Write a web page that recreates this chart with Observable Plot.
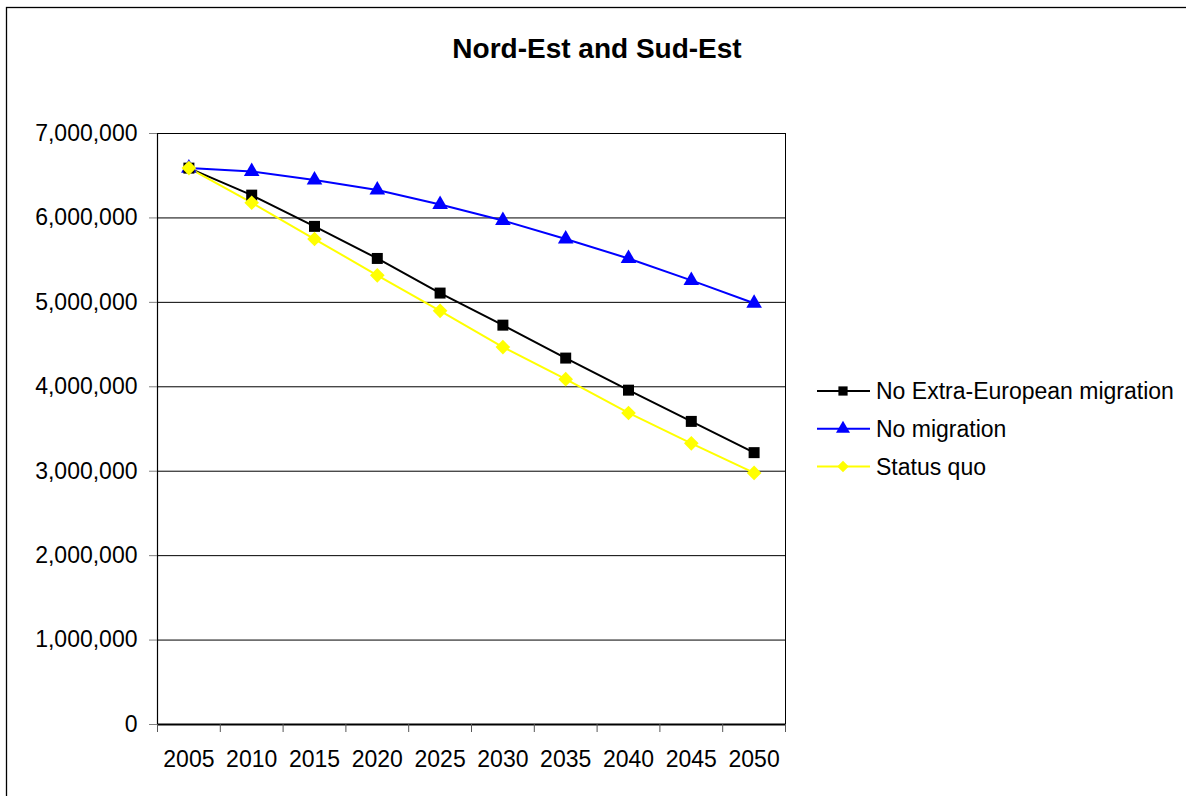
<!DOCTYPE html>
<html>
<head>
<meta charset="utf-8">
<script src="https://cdn.jsdelivr.net/npm/d3@7"></script>
<script src="https://cdn.jsdelivr.net/npm/@observablehq/plot@0.6"></script>
<style>
  html, body { margin: 0; padding: 0; background: #fff; overflow: hidden; }
  svg { display: block; }
</style>
</head>
<body>
<div id="chart"></div>
<script>
const title = "Nord-Est and Sud-Est";
const years = [2005, 2010, 2015, 2020, 2025, 2030, 2035, 2040, 2045, 2050];
const seriesNames = ["No Extra-European migration", "No migration", "Status quo"];
const seriesColors = ["#000000", "#0000ff", "#ffff00"];
const seriesSymbols = ["square", "triangle", "diamond2"];
const noExtraEuropean = [6590000, 6270000, 5900000, 5520000, 5110000, 4730000, 4340000, 3960000, 3590000, 3220000];
const noMigration     = [6590000, 6550000, 6450000, 6330000, 6160000, 5970000, 5750000, 5520000, 5260000, 4990000];
const statusQuo       = [6590000, 6180000, 5750000, 5320000, 4900000, 4470000, 4090000, 3690000, 3330000, 2980000];
const yTicks = [0, 1000000, 2000000, 3000000, 4000000, 5000000, 6000000, 7000000];

const seriesValues = [noExtraEuropean, noMigration, statusQuo];
const data = seriesNames.flatMap((s, i) => years.map((yr, j) => ({series: s, year: yr, value: seriesValues[i][j]})));
// category boundaries (x ticks sit between the categories)
const step = years[1] - years[0];
const bounds = [...years.map(y => y - step / 2), years[years.length - 1] + step / 2];
const drawOrder = [1, 0, 2];
const symbolR = {square: 6.2, triangle: 5.8, diamond2: 6.6};

const font = "'Liberation Sans', Arial, sans-serif";

const marks = [
  Plot.ruleY(yTicks, {stroke: "#000", strokeWidth: 1}),
  Plot.ruleX([bounds[bounds.length - 1]], {stroke: "#000", strokeWidth: 1}),
  Plot.ruleX([bounds[0]], {stroke: "#000", strokeWidth: 1.2}),
  Plot.ruleY([0], {stroke: "#000", strokeWidth: 2}),
  Plot.axisY({ticks: yTicks, tickFormat: d3.format(","), tickSize: 8, tickPadding: 12, fontSize: 23, stroke: "#808080", label: null}),
  Plot.axisX({ticks: years, tickFormat: d => String(d), tickSize: 0, tickPadding: 26, fontSize: 23, label: null}),
  Plot.axisX({ticks: bounds, tickFormat: () => "", tickSize: 8, stroke: "#555", label: null}),
];
for (const i of drawOrder) {
  const d = data.filter(r => r.series === seriesNames[i]);
  marks.push(Plot.line(d, {x: "year", y: "value", stroke: seriesColors[i], strokeWidth: 2}));
}
for (const i of drawOrder) {
  const d = data.filter(r => r.series === seriesNames[i]);
  marks.push(Plot.dot(d, {x: "year", y: "value", symbol: () => seriesSymbols[i], fill: seriesColors[i], stroke: "none", r: symbolR[seriesSymbols[i]]}));
}

const plot = Plot.plot({
  width: 1186,
  height: 796,
  marginLeft: 157,
  marginRight: 401,
  marginTop: 133,
  marginBottom: 72,
  style: {fontFamily: font, fontSize: "23px", color: "#000", background: "#fff", overflow: "visible"},
  x: {domain: [bounds[0], bounds[bounds.length - 1]], type: "linear"},
  y: {domain: [0, 7000000]},
  symbol: {domain: ["square", "triangle", "diamond2"], range: ["square", "triangle", "diamond2"]},
  marks
});
document.getElementById("chart").appendChild(plot);

const svg = d3.select(plot);
// outer chart-area border
svg.insert("rect", ":first-child")
  .attr("x", 6.5).attr("y", 7.5).attr("width", 1300).attr("height", 900)
  .attr("fill", "none").attr("stroke", "#000").attr("stroke-width", 1.3);

// title
svg.append("text")
  .attr("x", 597).attr("y", 58)
  .attr("text-anchor", "middle")
  .attr("font-family", font).attr("font-weight", "bold").attr("font-size", 28)
  .attr("fill", "#000")
  .text(title);

// legend
const lg = svg.append("g").attr("font-family", font).attr("font-size", 23).attr("text-anchor", "start");
const symMap = {square: d3.symbolSquare, triangle: d3.symbolTriangle, diamond2: d3.symbolDiamond2};
seriesNames.forEach((s, i) => {
  const y = 391 + i * 37.8;
  const g = lg.append("g").attr("transform", `translate(0,${y})`);
  g.append("line").attr("x1", 817).attr("x2", 870).attr("y1", 0).attr("y2", 0)
    .attr("stroke", seriesColors[i]).attr("stroke-width", 2);
  const rr = 5.2;
  g.append("path").attr("transform", "translate(843,0)")
    .attr("d", d3.symbol(symMap[seriesSymbols[i]], Math.PI * rr * rr)())
    .attr("fill", seriesColors[i]);
  g.append("text").attr("x", 876).attr("y", 0).attr("dy", "0.35em")
    .attr("text-anchor", "start")
    .attr("fill", "#000").text(s);
});
</script>
</body>
</html>
